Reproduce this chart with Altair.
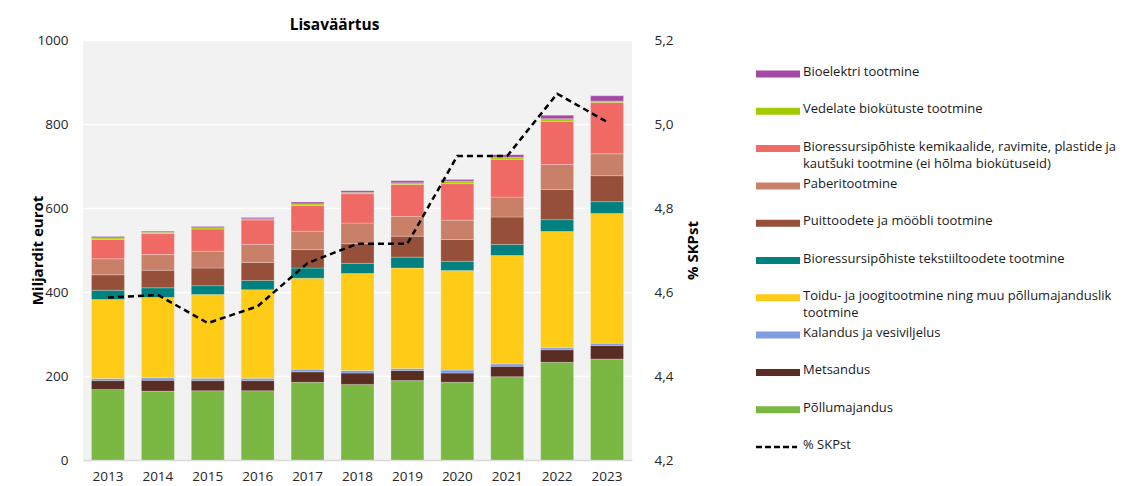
import altair as alt
import pandas as pd

years = [2013, 2014, 2015, 2016, 2017, 2018, 2019, 2020, 2021, 2022, 2023]

# stacked series, bottom to top (miljardit eurot)
pollumajandus = [168, 164, 165, 165, 185, 180, 189, 185, 198.5, 232.6, 240.5]
metsandus = [21, 26, 24, 24, 25, 27, 24, 22, 24.5, 30, 32]
kalandus = [5, 6, 5.5, 5.5, 6, 6, 5, 7, 5.6, 5.5, 5.5]
toidu = [188, 191, 199.5, 211, 217, 231, 239, 237, 258.4, 276, 309]
tekstiil = [22, 23, 21, 22, 24, 24, 26, 22, 26, 28, 28]
puit = [37, 42, 42, 43, 44, 47, 50, 52, 65.6, 72, 62]
paber = [38, 37, 40, 43, 43.5, 49, 47, 46, 47.4, 59.5, 52]
kemikaalid = [46, 50, 53, 58, 61.5, 70, 76, 87, 90, 103, 122]
vedelad = [4, 3, 3, 3, 4, 3, 4, 5.6, 5, 6, 4]
bioelekter = [3, 2.5, 3, 3, 4, 4, 5, 4, 6, 8, 12]

# % SKPst (right axis)
skp = [4.587, 4.593, 4.526, 4.566, 4.669, 4.715, 4.715, 4.924, 4.924, 5.072, 5.005]

names = [
    "Põllumajandus",
    "Metsandus",
    "Kalandus ja vesiviljelus",
    "Toidu- ja joogitootmine ning muu põllumajanduslik tootmine",
    "Bioressursipõhiste tekstiiltoodete tootmine",
    "Puittoodete ja mööbli tootmine",
    "Paberitootmine",
    "Bioressursipõhiste kemikaalide, ravimite, plastide ja kautšuki tootmine (ei hõlma biokütuseid)",
    "Vedelate biokütuste tootmine",
    "Bioelektri tootmine",
]
legend_labels = [
    "Põllumajandus",
    "Metsandus",
    "Kalandus ja vesiviljelus",
    "Toidu- ja joogitootmine ning muu põllumajanduslik\ntootmine",
    "Bioressursipõhiste tekstiiltoodete tootmine",
    "Puittoodete ja mööbli tootmine",
    "Paberitootmine",
    "Bioressursipõhiste kemikaalide, ravimite, plastide ja\nkautšuki tootmine (ei hõlma biokütuseid)",
    "Vedelate biokütuste tootmine",
    "Bioelektri tootmine",
]
colors = [
    "#7ab843",
    "#5a2d23",
    "#7f9ce0",
    "#fecc16",
    "#00807e",
    "#96503a",
    "#c98069",
    "#ef6a64",
    "#a3cc00",
    "#a349a4",
]
series = [pollumajandus, metsandus, kalandus, toidu, tekstiil, puit, paber,
          kemikaalid, vedelad, bioelekter]

FONT = "Open Sans"

rows = []
for i, (nm, vals) in enumerate(zip(names, series)):
    for yr, v in zip(years, vals):
        rows.append({"year": str(yr), "series": nm, "value": v, "order": i})
df = pd.DataFrame(rows)

line_df = pd.DataFrame({"year": [str(y) for y in years], "skp": skp})

# legend table (top to bottom)
leg_rows = []
n = len(names)
for k in range(n):
    i = n - 1 - k
    leg_rows.append({"idx": k, "label": legend_labels[i], "color": colors[i], "kind": "bar"})
leg_rows.append({"idx": n, "label": "% SKPst", "color": "#000000", "kind": "line"})
leg_df = pd.DataFrame(leg_rows)

x_enc = alt.X(
    "year:O",
    scale=alt.Scale(paddingInner=0.34, paddingOuter=0.17),
    axis=alt.Axis(title=None, labelAngle=0, labelFontSize=13.5, labelFont=FONT,
                  labelColor="#262626", labelPadding=9, ticks=False,
                  domainColor="#d9d9d9", domainWidth=1.5),
)

bars = alt.Chart(df).mark_bar(stroke="#ffffff", strokeWidth=0.4, strokeOpacity=0.6).encode(
    x=x_enc,
    y=alt.Y(
        "value:Q",
        stack="zero",
        scale=alt.Scale(domain=[0, 1000], nice=False),
        axis=alt.Axis(
            values=[0, 200, 400, 600, 800, 1000], format="d",
            title="Miljardit eurot", titleFont=FONT, titleFontSize=15,
            titleFontWeight="bold", titleColor="#000000",
            titleX=-46, titleY=210, titleBaseline="middle", titleAngle=270,
            labelFont=FONT, labelFontSize=13.5, labelColor="#262626",
            labelPadding=15, ticks=False, domain=False,
            grid=True, gridColor="#ffffff", gridWidth=1.5,
        ),
    ),
    color=alt.Color("series:N", scale=alt.Scale(domain=names, range=colors), legend=None),
    order=alt.Order("order:Q", sort="ascending"),
)

line = alt.Chart(line_df).mark_line(color="#000000", strokeDash=[6, 4], strokeWidth=2.5).encode(
    x=alt.X("year:O"),
    y=alt.Y(
        "skp:Q",
        scale=alt.Scale(domain=[4.2, 5.2], nice=False, zero=False),
        axis=alt.Axis(
            orient="right",
            values=[4.2, 4.4, 4.6, 4.8, 5.0, 5.2],
            labelExpr="replace(format(datum.value, '.1f'), '.', ',')",
            title="% SKPst", titleFont=FONT, titleFontSize=15,
            titleFontWeight="bold", titleColor="#000000",
            titleX=60, titleY=210, titleBaseline="middle", titleAngle=270,
            labelFont=FONT, labelFontSize=13.5, labelColor="#262626",
            labelPadding=22, ticks=False, domain=False, grid=False,
        ),
    ),
)

main = alt.layer(bars, line).resolve_scale(y="independent")

leg_scale = alt.Scale(domain=[0, n], range=[34, 407], nice=False, zero=False)

leg_swatch = alt.Chart(leg_df).transform_filter("datum.kind == 'bar'").mark_rule(strokeWidth=7).encode(
    x=alt.value(673),
    x2=alt.value(717),
    y=alt.Y("idx:Q", scale=leg_scale, axis=None),
    color=alt.Color("color:N", scale=None),
)
leg_dash = alt.Chart(leg_df).transform_filter("datum.kind == 'line'").mark_rule(
    strokeWidth=2.5, strokeDash=[6, 3], color="#000000"
).encode(
    x=alt.value(673),
    x2=alt.value(714),
    y=alt.Y("idx:Q", scale=leg_scale, axis=None),
)
leg_text = alt.Chart(leg_df).mark_text(
    align="left", baseline="top", dy=-8, font=FONT, fontSize=13,
    lineBreak="\n", lineHeight=17, color="#1a1a1a"
).encode(
    x=alt.value(720),
    y=alt.Y("idx:Q", scale=leg_scale, axis=None),
    text="label:N",
)
legend = alt.layer(leg_swatch, leg_dash, leg_text)

chart = alt.layer(main, legend).resolve_scale(y="independent", color="independent").properties(
    width=549,
    height=420,
    title=alt.TitleParams("Lisaväärtus", font=FONT, fontSize=15.5, fontWeight="bold",
                          color="#000000", anchor="middle", dx=-23, offset=0),
    autosize=alt.AutoSizeParams(type="none"),
    padding={"left": 75, "top": 32, "right": 496, "bottom": 26},
).configure_view(fill="#f2f2f2", strokeWidth=0).configure_axis(titleFontSize=15)

chart.save("out.html", embed_options={"renderer": "svg", "actions": False})
